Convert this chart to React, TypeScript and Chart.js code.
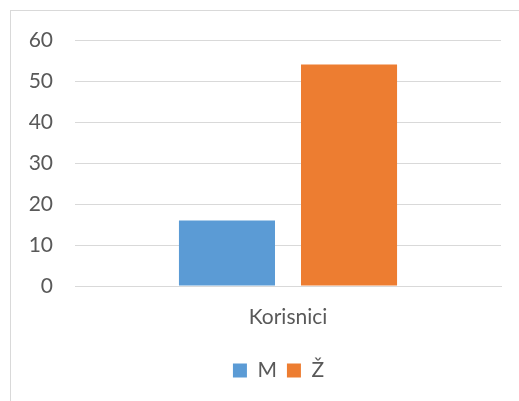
import React, { useEffect, useRef } from "react";
import { Chart, registerables } from "chart.js";

Chart.register(...registerables);

const categories = ["Korisnici"];
const seriesNames = ["M", "Ž"];
const seriesM = [16];
const seriesZ = [54];
const colors = ["#5B9BD5", "#ED7D31"];
const yTicks = [0, 10, 20, 30, 40, 50, 60];

const FONT = "Lato, 'Open Sans', sans-serif";
const TEXT = "#595959";
const GRID = "#D9D9D9";
const FS = 21;

const legendShift = {
  id: "legendShift",
  afterLayout(chart: any) {
    const l = chart.legend;
    if (l) {
      l.left += 28;
      l.right += 28;
    }
  },
};

export default function App() {
  const ref = useRef<HTMLCanvasElement | null>(null);
  useEffect(() => {
    if (!ref.current) return;
    const chart = new Chart(ref.current, {
      type: "bar",
      data: {
        labels: categories,
        datasets: [
          {
            label: seriesNames[0],
            data: seriesM,
            backgroundColor: colors[0],
            categoryPercentage: 0.573,
            barPercentage: 0.787,
          },
          {
            label: seriesNames[1],
            data: seriesZ,
            backgroundColor: colors[1],
            categoryPercentage: 0.573,
            barPercentage: 0.787,
          },
        ],
      },
      options: {
        responsive: false,
        animation: false,
        layout: { padding: { left: 0, right: 18, top: 40, bottom: 10 } },
        plugins: {
          tooltip: { enabled: false },
          legend: {
            position: "bottom",
            labels: {
              boxWidth: 14,
              boxHeight: 14,
              padding: 10,
              color: TEXT,
              font: { family: FONT, size: FS },
            },
          },
        },
        scales: {
          x: {
            grid: { display: false, drawTicks: false },
            border: { display: true, color: GRID, width: 1 },
            ticks: { color: TEXT, font: { family: FONT, size: FS }, padding: 19 },
            afterFit: (s: any) => {
              s.height = 64;
            },
          },
          y: {
            min: yTicks[0],
            max: yTicks[yTicks.length - 1],
            afterBuildTicks: (s: any) => {
              s.ticks = yTicks.map((v) => ({ value: v }));
            },
            grid: { color: GRID, lineWidth: 1, drawTicks: false },
            border: { display: false },
            ticks: { color: TEXT, font: { family: FONT, size: FS }, padding: 22 },
            afterFit: (s: any) => {
              s.width = 75;
            },
          },
        },
      },
      plugins: [legendShift],
    });
    return () => chart.destroy();
  }, []);
  return (
    <div
      style={{
        position: "fixed",
        left: 0,
        top: 0,
        width: 519,
        height: 401,
        overflow: "hidden",
        background: "#fff",
      }}
    >
      <div
        style={{
          position: "absolute",
          left: 10,
          top: 10,
          width: 540,
          height: 420,
          border: "1px solid #D9D9D9",
          boxSizing: "border-box",
        }}
      />
      <canvas
        ref={ref}
        width={519}
        height={401}
        style={{ position: "absolute", left: 0, top: 0, width: 519, height: 401 }}
      />
    </div>
  );
}
